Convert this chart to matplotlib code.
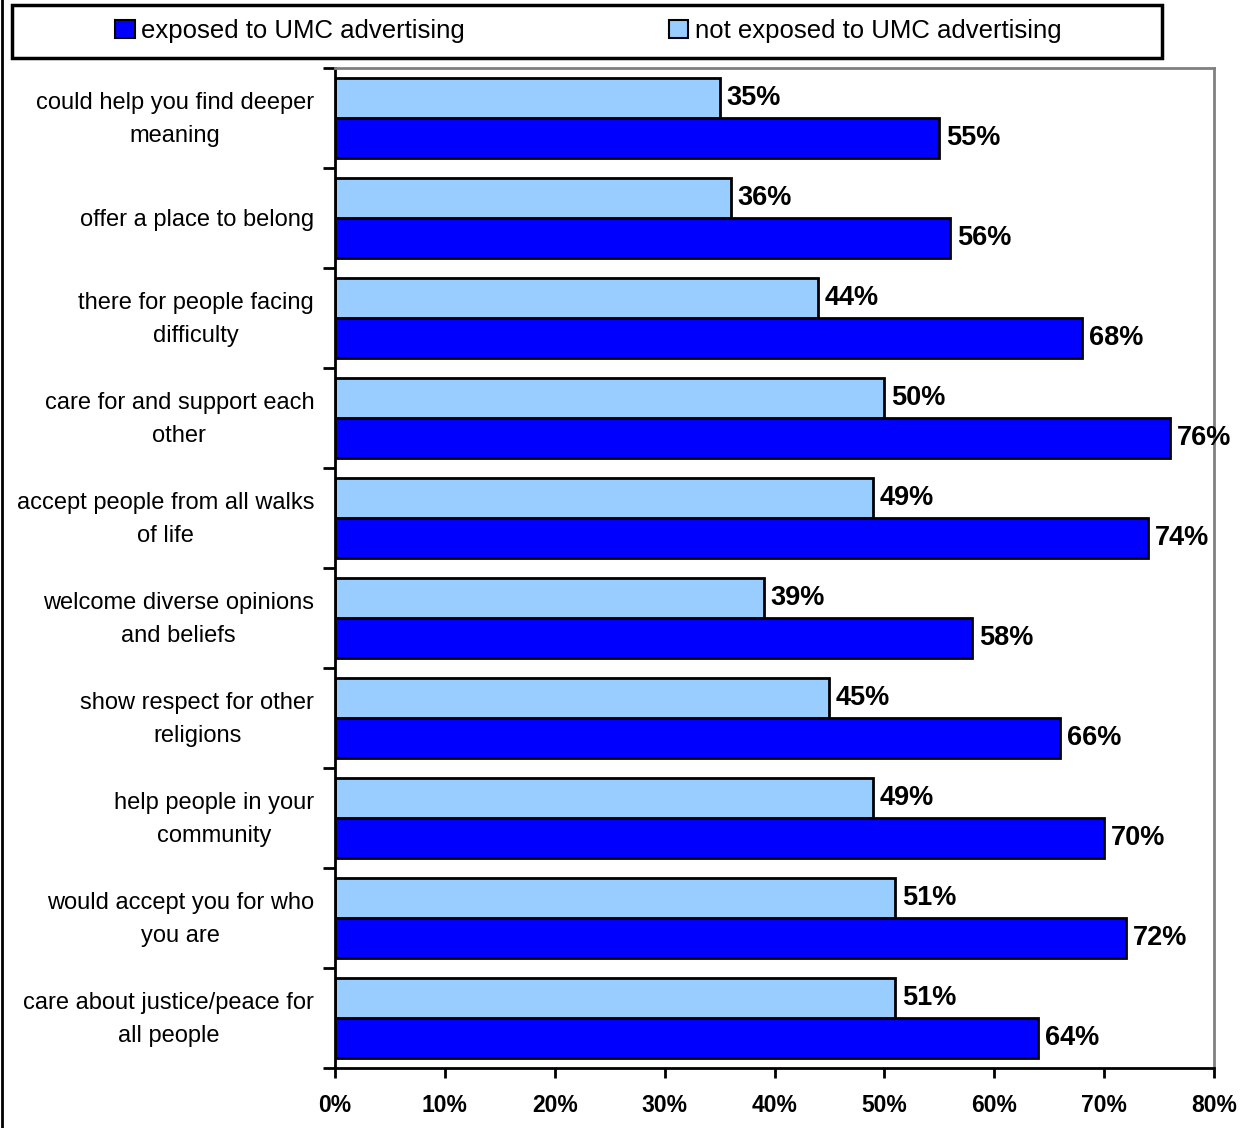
import matplotlib
matplotlib.use("Agg")
from matplotlib import pyplot as plt
from matplotlib.patches import Patch, Rectangle
from matplotlib.lines import Line2D
from matplotlib.transforms import ScaledTranslation
import numpy as np

categories = [
    "could help you find deeper\nmeaning",
    "offer a place to belong",
    "there for people facing\ndifficulty",
    "care for and support each\nother",
    "accept people from all walks\nof life",
    "welcome diverse opinions\nand beliefs",
    "show respect for other\nreligions",
    "help people in your\ncommunity",
    "would accept you for who\nyou are",
    "care about justice/peace for\nall people",
]
not_exposed = [35, 36, 44, 50, 49, 39, 45, 49, 51, 51]
exposed = [55, 56, 68, 76, 74, 58, 66, 70, 72, 64]
x_ticks = [0, 10, 20, 30, 40, 50, 60, 70, 80]

dark = "#0000ff"
light = "#99ccff"
font = ["Liberation Sans", "DejaVu Sans"]
plt.rcParams["font.family"] = font

fig = plt.figure(figsize=(12.5, 11.28), dpi=100)
ax = fig.add_axes([335 / 1250, 1 - 1068 / 1128, (1214 - 335) / 1250, 1000 / 1128])

y = np.arange(len(categories))
h = 0.4
ax.barh(y - h / 2, not_exposed, height=h, color=light, edgecolor="black", linewidth=2)
ax.barh(y + h / 2, exposed, height=h, color=dark, edgecolor="black", linewidth=2)

for i in range(len(categories)):
    ax.text(not_exposed[i] + 0.6, y[i] - h / 2, f"{not_exposed[i]}%", va="center", ha="left",
            fontsize=19.5, fontweight="bold")
    ax.text(exposed[i] + 0.6, y[i] + h / 2, f"{exposed[i]}%", va="center", ha="left",
            fontsize=19.5, fontweight="bold", clip_on=False)

ax.set_ylim(len(categories) - 0.5, -0.5)
ax.set_xlim(0, 80)

ax.set_yticks(np.arange(len(categories) + 1) - 0.5)
ax.set_yticklabels([])
ax.set_yticks(y, minor=True)
ax.set_yticklabels(categories, minor=True, fontsize=17, ha="right",
                   multialignment="center", linespacing=1.7)
ax.tick_params(axis="y", which="minor", length=0, pad=15)
ax.tick_params(axis="y", which="major", length=9, width=2, direction="out")
# nudge the two-line labels up a little
shift = ScaledTranslation(0, 5 / 72, fig.dpi_scale_trans)
for lbl in ax.get_yticklabels(minor=True):
    if "\n" in lbl.get_text():
        lbl.set_transform(lbl.get_transform() + shift)

ax.set_xticks(x_ticks)
ax.set_xticklabels([f"{t}%" for t in x_ticks], fontsize=16.5, fontweight="bold")
ax.tick_params(axis="x", length=7, width=2, direction="out", pad=12)

ax.spines["left"].set_linewidth(2)
ax.spines["bottom"].set_linewidth(2)
for side in ["top", "right"]:
    ax.spines[side].set_color("#808080")
    ax.spines[side].set_linewidth(2)

# legend box with two centred entries
fig.add_artist(Rectangle((12 / 1250, 1 - 58 / 1128), 1150 / 1250, 53 / 1128, fill=False,
                         edgecolor="black", linewidth=2.5, transform=fig.transFigure))
entries = [(dark, "exposed to UMC advertising", 290), (light, "not exposed to UMC advertising", 865)]
for color, label, cx in entries:
    fig.legend(handles=[Patch(facecolor=color, edgecolor="black", linewidth=1.5, label=label)],
               loc="center", bbox_to_anchor=(cx / 1250, 1 - 31 / 1128), frameon=False,
               handlelength=0.75, handleheight=0.75, handletextpad=0.25,
               prop={"size": 18.5})

fig.add_artist(Line2D([2 / 1250, 2 / 1250], [0, 1], color="black", linewidth=2,
                      transform=fig.transFigure))

fig.savefig("out.png", dpi=100)
